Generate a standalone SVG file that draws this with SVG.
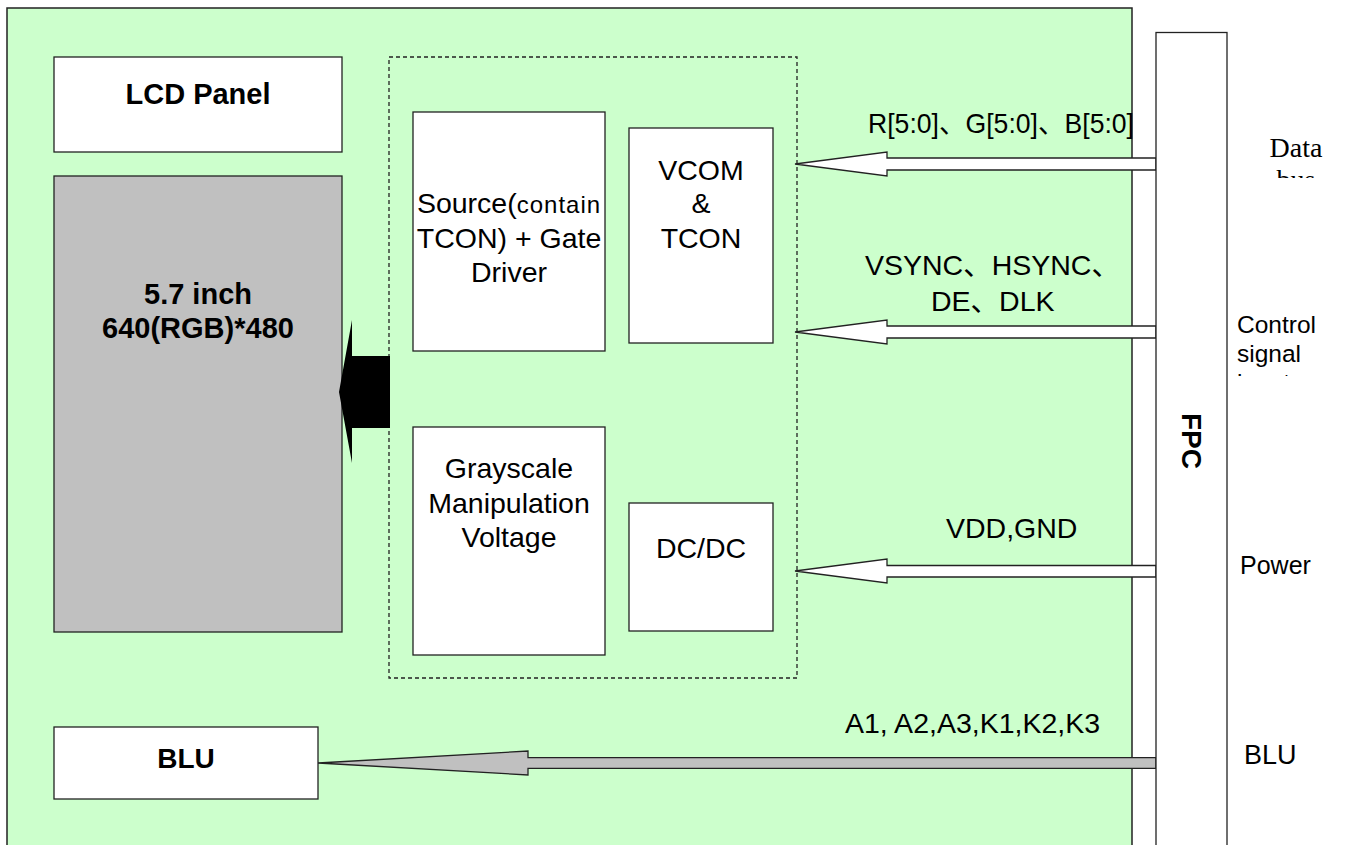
<svg xmlns="http://www.w3.org/2000/svg" width="1357" height="845" viewBox="0 0 1357 845">
<defs>
<style>
.box{fill:#fff;stroke:#222;stroke-width:1.3}
.t{font-family:"Liberation Sans",Arial,"Noto Sans CJK SC",sans-serif;font-size:28.5px;fill:#000}
.s{font-family:"Liberation Serif","Times New Roman",serif;font-size:28px;fill:#000}
.b{font-weight:bold}
.m{text-anchor:middle}
.arr{fill:#fff;stroke:#222;stroke-width:1.3;stroke-linejoin:miter}
</style>
<clipPath id="clipData"><rect x="1228" y="100" width="129" height="78"/></clipPath>
<clipPath id="clipCtrl"><rect x="1228" y="290" width="129" height="86"/></clipPath>
</defs>
<rect x="0" y="0" width="1357" height="845" fill="#fff"/>
<g id="board">
<rect x="7" y="8" width="1125" height="860" fill="#ccffcc" stroke="#222" stroke-width="1.5"/>
</g>
<g id="lcd-panel">
<rect class="box" x="54" y="57" width="288" height="95"/>
<text class="t b m" x="198" y="103.5" style="font-size:29px">LCD Panel</text>
</g>
<g id="panel-area">
<rect x="54" y="176" width="288" height="456" fill="#c0c0c0" stroke="#222" stroke-width="1.3"/>
<text class="t b m" x="198" y="304" style="font-size:29px">5.7 inch</text>
<text class="t b m" x="198" y="338" style="font-size:29px">640(RGB)*480</text>
</g>
<g id="driver-group">
<rect x="389" y="57" width="408" height="621" fill="none" stroke="#222" stroke-width="1.3" stroke-dasharray="4 3"/>
</g>
<g id="source-driver">
<rect class="box" x="413" y="112" width="192" height="239"/>
<text class="t m" x="509" y="213">Source(<tspan style="font-size:24px;letter-spacing:1px">contain</tspan></text>
<text class="t m" x="509" y="248">TCON) + Gate</text>
<text class="t m" x="509" y="282">Driver</text>
</g>
<g id="vcom-tcon">
<rect class="box" x="629" y="128" width="144" height="215"/>
<text class="t m" x="701" y="180">VCOM</text>
<text class="t m" x="701" y="213">&amp;</text>
<text class="t m" x="701" y="248">TCON</text>
</g>
<g id="grayscale">
<rect class="box" x="413" y="427" width="192" height="228"/>
<text class="t m" x="509" y="478">Grayscale</text>
<text class="t m" x="509" y="513">Manipulation</text>
<text class="t m" x="509" y="547">Voltage</text>
</g>
<g id="dcdc">
<rect class="box" x="629" y="503" width="144" height="128"/>
<text class="t m" x="701" y="558">DC/DC</text>
</g>
<g id="blu">
<rect class="box" x="54" y="727" width="264" height="72"/>
<text class="t b m" x="186" y="768" style="font-size:28px">BLU</text>
</g>
<g id="connectors">
<polygon points="339,392 352,320 352,356 390,356 390,428 352,428 352,463" fill="#000"/>
<polygon class="arr" points="795,164 887,152 887,158 1156,158 1156,170 887,170 887,176"/>
<polygon class="arr" points="795,332 887,320 887,326 1156,326 1156,338 887,338 887,344"/>
<polygon class="arr" points="795,571 887,559 887,565.5 1156,565.5 1156,577 887,577 887,583"/>
<polygon points="318,763 528,751 528,757.7 1156,757.7 1156,768.3 528,768.3 528,775" fill="#c0c0c0" stroke="#222" stroke-width="1.3"/>
</g>
<g id="labels">
<text class="t" x="868" y="133" style="font-size:28px" textLength="266" lengthAdjust="spacingAndGlyphs">R[5:0]、G[5:0]、B[5:0]</text>
<text class="t" x="865" y="275">VSYNC、HSYNC、</text>
<text class="t" x="931" y="311">DE、DLK</text>
<text class="t" x="946" y="538">VDD,GND</text>
<text class="t" x="845" y="733">A1, A2,A3,K1,K2,K3</text>
</g>
<g id="fpc">
<rect class="box" x="1156" y="32.5" width="71" height="840"/>
<text class="t b m" transform="translate(1191.5,441) rotate(90)" x="0" y="10" style="font-size:28px">FPC</text>
</g>
<g id="side-labels">
<g clip-path="url(#clipData)">
<text class="s m" x="1296" y="157">Data</text>
<text class="s m" x="1296" y="189">bus</text>
</g>
<g clip-path="url(#clipCtrl)">
<text class="t" x="1237" y="333" style="font-size:24.5px">Control</text>
<text class="t" x="1237" y="362" style="font-size:24.5px">signal</text>
<text class="t" x="1237" y="391" style="font-size:24.5px">input</text>
</g>
<text class="t" x="1240" y="574" style="font-size:25px">Power</text>
<text class="t" x="1244" y="764" style="font-size:27px">BLU</text>
</g>
</svg>
